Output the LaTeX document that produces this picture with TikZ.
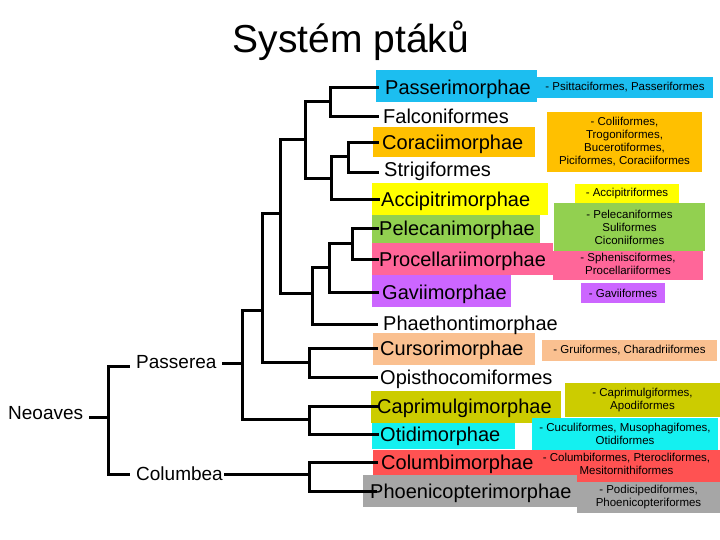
\documentclass[tikz,border=0pt]{standalone}
\usepackage{fontspec}
\setmainfont{Liberation Sans}
\definecolor{cBlue}{RGB}{28,190,240}
\definecolor{cOrange}{RGB}{255,192,0}
\definecolor{cYellow}{RGB}{255,255,0}
\definecolor{cGreen}{RGB}{146,208,80}
\definecolor{cPink}{RGB}{255,102,153}
\definecolor{cPurple}{RGB}{204,102,255}
\definecolor{cPeach}{RGB}{250,192,144}
\definecolor{cOlive}{RGB}{204,204,0}
\definecolor{cAqua}{RGB}{20,240,240}
\definecolor{cCoral}{RGB}{255,82,82}
\definecolor{cGray}{RGB}{166,166,166}
\begin{document}
\begin{tikzpicture}[x=1pt,y=-1pt,
  lab/.style={anchor=base west,inner sep=0pt,font=\fontsize{20}{24}\selectfont},
  clade/.style={inner sep=0pt,font=\fontsize{19}{22}\selectfont},
  sidetxt/.style={inner sep=0pt,align=center,font=\fontsize{11.5}{13}\selectfont},
  tree/.style={line width=3pt,line cap=rect,line join=miter}]
\useasboundingbox (0,0) rectangle (720,540);
\fill[white] (0,0) rectangle (720,540);
% title
\node[anchor=base,inner sep=0pt,font=\fontsize{39}{46}\selectfont] (title) at (351,53) {Systém ptáků};
% main boxes
\fill[cBlue]   (376,70)  rectangle (537,102);
\fill[cBlue]   (537,77)  rectangle (713,98);
\fill[cOrange] (373,127) rectangle (535,157);
\fill[cOrange] (547,112) rectangle (702,172);
\fill[cYellow] (372,183) rectangle (548,215);
\fill[cYellow] (575,184) rectangle (679,204);
\fill[cPink]   (372,243) rectangle (553,275);
\fill[cPink]   (553,251) rectangle (703,280);
\fill[cGreen]  (372,215) rectangle (540,243);
\fill[cGreen]  (554,203) rectangle (705,251);
\fill[cPurple] (372,275) rectangle (511,307);
\fill[cPurple] (581,283) rectangle (665,303);
\fill[cPeach]  (373,333) rectangle (535,365);
\fill[cPeach]  (542,340) rectangle (717,361);
\fill[cOlive]  (371,391) rectangle (561,423);
\fill[cOlive]  (565,383) rectangle (720,417);
\fill[cAqua]   (372,423) rectangle (515,449);
\fill[cAqua]   (532,418) rectangle (718,452);
\fill[cCoral]  (373,450) rectangle (533,478);
\fill[cCoral]  (533,450) rectangle (720,482);
\fill[cGray]   (363,475) rectangle (577,507);
\fill[cGray]   (577,482) rectangle (720,513);
% leaf labels
\node[lab] (passer) at (385,95)  {Passerimorphae};
\node[lab] (falco)  at (383,124) {Falconiformes};
\node[lab] (corac)  at (382,150) {Coraciimorphae};
\node[lab] (strig)  at (384,177) {Strigiformes};
\node[lab] (accip)  at (381,207) {Accipitrimorphae};
\node[lab] (pelec)  at (379,236) {Pelecanimorphae};
\node[lab] (proc)   at (379,266) {Procellariimorphae};
\node[lab] (gavi)   at (382,299) {Gaviimorphae};
\node[lab] (phaet)  at (383,330) {Phaethontimorphae};
\node[lab] (curs)   at (380,355) {Cursorimorphae};
\node[lab] (opist)  at (380,384) {Opisthocomiformes};
\node[lab] (capr)   at (377,413) {Caprimulgimorphae};
\node[lab] (otid)   at (380,441) {Otidimorphae};
\node[lab] (colum)  at (381,469) {Columbimorphae};
\node[lab] (phoen)  at (370,498) {Phoenicopterimorphae};
% side texts
\node[sidetxt] (s1)  at (625,87.5) {- Psittaciformes, Passeriformes};
\node[sidetxt] (s2)  at (624.5,142) {- Coliiformes,\\Trogoniformes,\\Bucerotiformes,\\Piciformes, Coraciiformes};
\node[sidetxt] (s3)  at (627,194) {- Accipitriformes};
\node[sidetxt] (s4)  at (629.5,227) {- Pelecaniformes\\Suliformes\\Ciconiiformes};
\node[sidetxt] (s5)  at (628,264) {- Sphenisciformes,\\Procellariiformes};
\node[sidetxt] (s6)  at (623,293) {- Gaviiformes};
\node[sidetxt] (s7)  at (629.5,350.5) {- Gruiformes, Charadriiformes};
\node[sidetxt] (s8)  at (642.5,400) {- Caprimulgiformes,\\Apodiformes};
\node[sidetxt] (s9)  at (625,434) {- Cuculiformes, Musophagifomes,\\Otidiformes};
\node[sidetxt] (s10) at (626.5,464) {- Columbiformes, Pterocliformes,\\Mesitornithiformes};
\node[sidetxt] (s11) at (648.5,497) {- Podicipediformes,\\Phoenicopteriformes};
% clade labels
\node[clade,anchor=west] (neoaves)  at (8,413)   {Neoaves};
\node[clade,anchor=west] (passerea) at (136,362) {Passerea};
\node[clade,anchor=west] (columbea) at (136,474) {Columbea};
% leaf line ends
\coordinate (lPasser) at (377,88);
\coordinate (lFalco)  at (377,117);
\coordinate (lCorac)  at (377,143);
\coordinate (lStrig)  at (377,173);
\coordinate (lAccip)  at (378,200);
\coordinate (lPelec)  at (377,229);
\coordinate (lProc)   at (377,259);
\coordinate (lGavi)   at (377,292);
\coordinate (lPhaet)  at (376,324);
\coordinate (lCurs)   at (376,348);
\coordinate (lOpist)  at (376,377);
\coordinate (lCapr)   at (377,406);
\coordinate (lOtid)   at (377,434);
\coordinate (lColum)  at (376,462);
\coordinate (lPhoen)  at (375,491);
% internal nodes
\coordinate (nA) at (330,102);
\coordinate (nB) at (348,157);
\coordinate (nC) at (331,179);
\coordinate (nD) at (305,140);
\coordinate (nE) at (352,243);
\coordinate (nF) at (329,267);
\coordinate (nG) at (312,293);
\coordinate (nH) at (280,214);
\coordinate (nI) at (309,362);
\coordinate (nJ) at (262,310);
\coordinate (nK) at (309,419);
\coordinate (nL) at (242,363);
\coordinate (nM) at (309,474);
\coordinate (nN) at (108,417);
\coordinate (pW) at (128,366);
\coordinate (cW) at (128,474);
\coordinate (pE) at (223,363);
\coordinate (cE) at (225,474);
\coordinate (rE) at (90,417);
% tree
\draw[tree] (lPasser) -| (nA) |- (lFalco);
\draw[tree] (lCorac) -| (nB) |- (lStrig);
\draw[tree] (nB) -| (nC) |- (lAccip);
\draw[tree] (nA) -| (nD) |- (nC);
\draw[tree] (lPelec) -| (nE) |- (lProc);
\draw[tree] (nE) -| (nF) |- (lGavi);
\draw[tree] (nF) -| (nG) |- (lPhaet);
\draw[tree] (nD) -| (nH) |- (nG);
\draw[tree] (lCurs) -| (nI) |- (lOpist);
\draw[tree] (nH) -| (nJ) |- (nI);
\draw[tree] (lCapr) -| (nK) |- (lOtid);
\draw[tree] (nJ) -| (nL) |- (nK);
\draw[tree] (pE) -- (nL);
\draw[tree] (lColum) -| (nM) |- (lPhoen);
\draw[tree] (cE) -- (nM);
\draw[tree] (pW) -| (nN) |- (cW);
\draw[tree] (rE) -- (nN);
\end{tikzpicture}
\end{document}
